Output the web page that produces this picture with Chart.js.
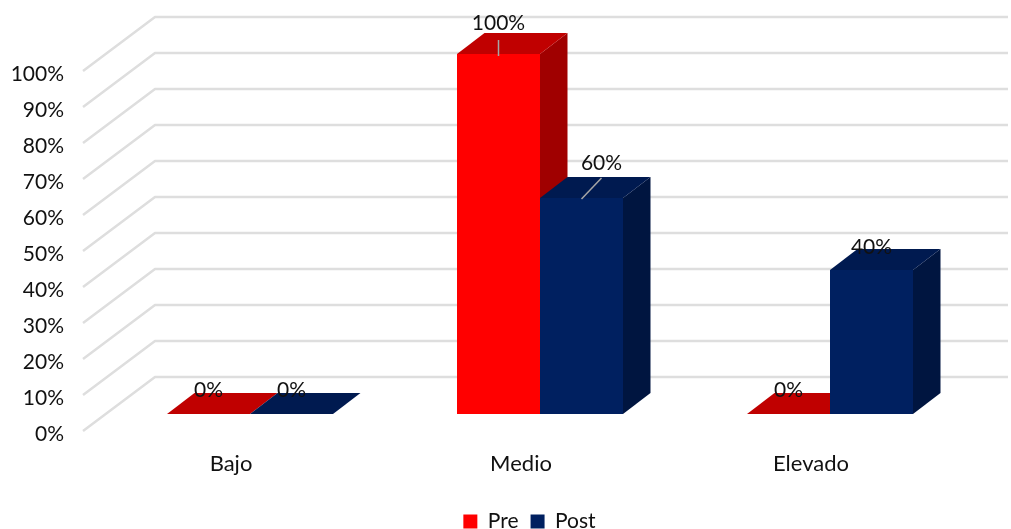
<!DOCTYPE html>
<html>
<head>
<meta charset="utf-8">
<script src="https://cdn.jsdelivr.net/npm/chart.js@4"></script>
<style>
html,body{margin:0;padding:0;background:#fff;overflow:hidden}
#wrap{position:relative;width:1011px;height:529px}
</style>
</head>
<body>
<div id="wrap"><canvas id="c" width="1011" height="529"></canvas></div>
<script>
const categories = ['Bajo', 'Medio', 'Elevado'];
const preValues = [0, 100, 0];
const postValues = [0, 60, 40];
const yTicks = [0, 10, 20, 30, 40, 50, 60, 70, 80, 90, 100];

const FONT = 'Lato, Carlito, sans-serif';
const FONT_SIZE = 21;
const GRID = '#DEDEDE';
const WALL = {dx: 72, dy: -54, left: 83, right: 1008};
const BAR = {dx: 27.5, dy: -21, lift: 17};
const STYLE = [
  {front: '#FF0000', top: '#C00000', side: '#A00000'},
  {front: '#002060', top: '#001A50', side: '#001540'}
];
// label placement relative to the bar, and optional leader line, per [dataset][category]
const LABEL = [
  [{ox: 0, oy: -24}, {ox: 0, oy: -31, leader: [0, -14, 0, 2]}, {ox: 0, oy: -24}],
  [{ox: 0, oy: -24}, {ox: 20, oy: -35, leader: [20, -20, 0, 1]}, {ox: 0, oy: -23}]
];

const threeD = {
  id: 'threeD',
  afterLayout(chart) {
    // place the legend where the reference has it
    chart.legend.left = 84;
    chart.legend.top = 499;
  },
  beforeDatasetsDraw(chart) {
    const {ctx} = chart;
    const y = chart.scales.y;
    ctx.save();
    ctx.strokeStyle = GRID;
    ctx.lineWidth = 2.5;
    ctx.lineJoin = 'round';
    yTicks.forEach(t => {
      const py = y.getPixelForValue(t);
      ctx.beginPath();
      ctx.moveTo(WALL.left, py);
      ctx.lineTo(WALL.left + WALL.dx, py + WALL.dy);
      ctx.lineTo(WALL.right, py + WALL.dy);
      ctx.stroke();
    });
    ctx.restore();
    // side and top faces, Pre first so Post's faces overlap it
    ctx.save();
    ctx.translate(0, -BAR.lift);
    [0, 1].forEach(i => {
      const s = STYLE[i];
      chart.getDatasetMeta(i).data.forEach(b => {
        const l = b.x - b.width / 2, r = b.x + b.width / 2;
        ctx.fillStyle = s.side;
        ctx.beginPath();
        ctx.moveTo(r, b.y);
        ctx.lineTo(r + BAR.dx, b.y + BAR.dy);
        ctx.lineTo(r + BAR.dx, b.base + BAR.dy);
        ctx.lineTo(r, b.base);
        ctx.closePath();
        ctx.fill();
        ctx.fillStyle = s.top;
        ctx.beginPath();
        ctx.moveTo(l, b.y);
        ctx.lineTo(l + BAR.dx, b.y + BAR.dy);
        ctx.lineTo(r + BAR.dx, b.y + BAR.dy);
        ctx.lineTo(r, b.y);
        ctx.closePath();
        ctx.fill();
      });
    });
    ctx.restore();
  },
  beforeDatasetDraw(chart) {
    chart.ctx.save();
    chart.ctx.translate(0, -BAR.lift);
  },
  afterDatasetDraw(chart) {
    chart.ctx.restore();
  },
  afterDatasetsDraw(chart) {
    const {ctx} = chart;
    chart.getSortedVisibleDatasetMetas().forEach(meta => {
      const i = meta.index;
      meta.data.forEach((b, j) => {
        const v = chart.data.datasets[i].data[j];
        const cfg = LABEL[i][j];
        const by = b.y - BAR.lift;
        if (cfg.leader) {
          const [x0, y0, x1, y1] = cfg.leader;
          ctx.save();
          ctx.strokeStyle = '#A6A6A6';
          ctx.lineWidth = 1.5;
          ctx.beginPath();
          ctx.moveTo(b.x + x0, by + y0);
          ctx.lineTo(b.x + x1, by + y1);
          ctx.stroke();
          ctx.restore();
        }
        ctx.save();
        ctx.font = FONT_SIZE + 'px ' + FONT;
        ctx.fillStyle = '#111';
        ctx.textAlign = 'center';
        ctx.textBaseline = 'middle';
        ctx.fillText(v + '%', b.x + cfg.ox, by + cfg.oy);
        ctx.restore();
      });
    });
  }
};

const chart = new Chart(document.getElementById('c'), {
  type: 'bar',
  data: {
    labels: categories,
    datasets: [
      {label: 'Pre', data: preValues, backgroundColor: STYLE[0].front},
      {label: 'Post', data: postValues, backgroundColor: STYLE[1].front}
    ]
  },
  options: {
    responsive: false,
    animation: false,
    layout: {padding: {left: 0, right: 36, top: 71, bottom: 0}},
    datasets: {bar: {categoryPercentage: 0.5724, barPercentage: 1}},
    scales: {
      x: {
        grid: {display: false},
        border: {display: false},
        afterFit(s) { s.height = 98 - s.chart.legend.height; },
        ticks: {
          color: '#111', labelOffset: -19, padding: 12,
          font: {family: FONT, size: 22}, maxRotation: 0
        }
      },
      y: {
        min: 0, max: 100,
        grid: {display: false},
        border: {display: false},
        afterFit(s) { s.width = 105; },
        afterBuildTicks(s) { s.ticks = yTicks.map(v => ({value: v})); },
        ticks: {
          color: '#111', padding: 33, labelOffset: 3,
          font: {family: FONT, size: FONT_SIZE},
          callback: v => v + '%'
        }
      }
    },
    plugins: {
      tooltip: {enabled: false},
      legend: {
        position: 'bottom',
        labels: {
          color: '#111', boxWidth: 14, boxHeight: 14, padding: 12,
          font: {family: FONT, size: FONT_SIZE}
        }
      }
    }
  },
  plugins: [threeD]
});
</script>
</body>
</html>
